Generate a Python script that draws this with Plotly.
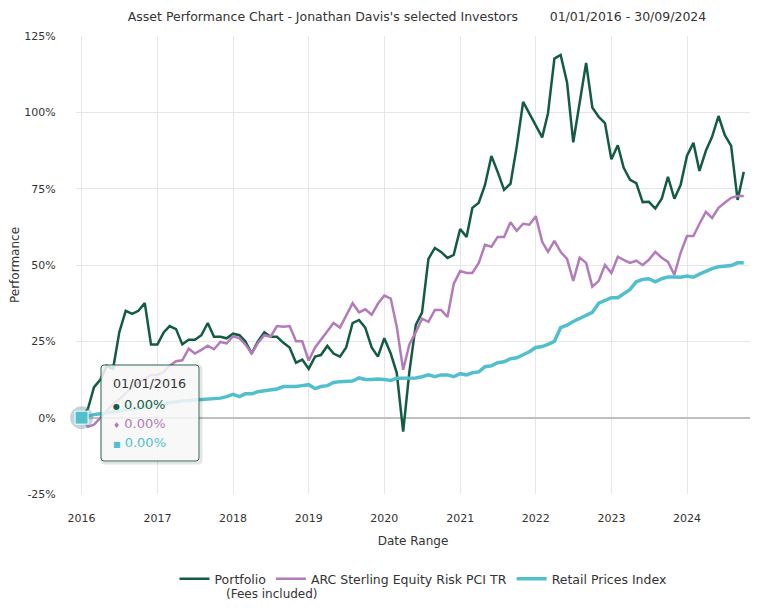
import plotly.graph_objects as go
import pandas as pd

# ---------------- data ----------------
dates = pd.date_range("2016-01-01", periods=106, freq="MS")

portfolio = [
    0, 3, 10, 12.5, 17, 16, 28, 35, 34, 35, 37.5, 24,
    24, 28, 30, 29, 24, 25.5, 25.5, 27, 31, 26.5, 26.5, 26,
    27.5, 27, 25, 21, 25, 28, 26.5, 26.5, 24.5, 23, 18, 19,
    16, 20, 20.5, 23.5, 21, 20, 23, 31, 32, 29.5, 23, 20,
    26, 21, 14.7, -4.6, 15, 30.4, 34.4, 52, 55.6, 54.3, 52.3, 53.3,
    61.8, 59.2, 68.7, 70.4, 76.2, 85.7, 80.5, 74.6, 76.6, 88.7, 103.4, 99.7,
    96, 91.8, 99.7, 117.6, 118.8, 109.8, 90.2, 103.6, 116.2, 101.6, 98.5, 96.5,
    84.6, 89.2, 81.9, 77.9, 76.8, 70.6, 70.7, 68.5, 71.7, 78.9, 71.7, 76.2,
    85.8, 90, 80.8, 87.4, 92, 98.8, 92.6, 89, 71.3, 80.5,
]

arc = [
    0, -3, -2.3, 0, 2, 4.5, 6, 8, 10, 11.5, 12.5, 14,
    14, 15, 17, 18.5, 18.8, 22.6, 21, 22.2, 23.6, 22.4, 24.8, 24.3,
    26.7, 26, 24, 21, 24.5, 27, 26.5, 30, 29.8, 30, 25, 25,
    18.7, 23, 25.5, 28, 31, 29.5, 33.7, 37.5, 34.5, 35.5, 33.7, 37.3,
    40, 39, 29.8, 15.7, 24, 28, 32.4, 31.4, 35.3, 35.3, 33, 43.8,
    48, 47.4, 47.4, 50.7, 56.6, 56, 59.2, 59.2, 64, 61.2, 63.5, 63.2,
    66, 57.6, 54.3, 57.9, 54.3, 52, 44.8, 52.4, 50.7, 42.9, 44.8, 50,
    47.4, 52.7, 51.7, 50.7, 51.4, 50, 51.7, 54.3, 52.4, 51, 46.8, 54,
    59.5, 59.5, 63.5, 67.4, 65.4, 68.7, 70.4, 72, 72.6, 72.6,
]

rpi = [
    0, 0.6, 1.0, 1.3, 1.6, 1.9, 2.2, 2.5, 2.8, 3.0, 3.3, 3.5,
    3.9, 4.4, 4.9, 5.3, 5.5, 5.6, 5.8, 5.9, 6.2, 6.2, 6.4, 6.9,
    7.6, 6.9, 7.8, 7.8, 8.5, 8.8, 9.2, 9.4, 10.2, 10.2, 10.2, 10.5,
    10.8, 9.5, 10.2, 10.5, 11.5, 11.8, 12, 12, 13, 12.5, 12.5, 12.7,
    12.5, 12.2, 12.9, 13, 13, 13, 13.4, 14, 13.4, 14, 14, 13.4,
    14.4, 14, 14.7, 15, 16.7, 17, 18, 18.3, 19.3, 19.6, 20.6, 21.6,
    23, 23.3, 24, 25, 29.5, 30.3, 31.5, 32.5, 33.7, 34.5, 37.5, 38.5,
    39.3, 39.3, 40.5, 42, 44.5, 45.3, 45.5, 44.5, 45.5, 46.1, 46.1, 46,
    46.4, 46, 47, 48, 48.8, 49.4, 49.6, 49.8, 50.7, 50.7,
]

series_names = ["Portfolio", "ARC Sterling Equity Risk PCI TR", "Retail Prices Index"]
series_colors = ["#135c41", "#b37bba", "#52bfcc"]

year_ticks = ["2016-01-01", "2017-01-01", "2018-01-01", "2019-01-01", "2020-01-01",
              "2021-01-01", "2022-01-01", "2023-01-01", "2024-01-01"]
year_labels = ["2016", "2017", "2018", "2019", "2020", "2021", "2022", "2023", "2024"]
y_ticks = [-25, 0, 25, 50, 75, 100, 125]
y_tick_labels = ["-25%", "0%", "25%", "50%", "75%", "100%", "125%"]

tooltip_date = "01/01/2016"
tooltip_values = ["0.00%", "0.00%", "0.00%"]
tooltip_symbols = ["\u25cf", "\u2666", "\u25a0"]

# ---------------- layout geometry ----------------
OFF = 8                      # browser body margin
W, H = 762 - 2 * OFF, 610 - 2 * OFF
L, R, T, B = 68, 4, 28, 108
PW, PH = W - L - R, H - T - B
FONT = "DejaVu Sans"
TXT = "#333333"


def px(xp):  # page pixel -> paper x
    return (xp - OFF - L) / PW


def py(yp):  # page pixel -> paper y
    return (H - B - (yp - OFF)) / PH


def rounded_rect(x0, y0, x1, y1, r):
    ax0, ax1 = px(x0), px(x1)
    ay0, ay1 = py(y0), py(y1)  # ay0 top (larger), ay1 bottom
    rx, ry = r / PW, r / PH
    return (f"M {ax0 + rx},{ay0} L {ax1 - rx},{ay0} Q {ax1},{ay0} {ax1},{ay0 - ry} "
            f"L {ax1},{ay1 + ry} Q {ax1},{ay1} {ax1 - rx},{ay1} "
            f"L {ax0 + rx},{ay1} Q {ax0},{ay1} {ax0},{ay1 + ry} "
            f"L {ax0},{ay0 - ry} Q {ax0},{ay0} {ax0 + rx},{ay0} Z")


fig = go.Figure()

data_sets = [portfolio, arc, rpi]
widths = [2.5, 2.5, 3.5]
# draw in Highcharts order (later series on top)
for i, (name, vals) in enumerate(zip(series_names, data_sets)):
    fig.add_trace(go.Scatter(
        x=dates, y=vals, mode="lines", name=name,
        line=dict(color=series_colors[i], width=widths[i]),
        hoverinfo="skip", legendrank=i + 1,
    ))

# hover marker (halo + square) on the first RPI point
fig.add_trace(go.Scatter(
    x=[dates[0]], y=[rpi[0]], mode="markers", showlegend=False, hoverinfo="skip",
    cliponaxis=False,
    marker=dict(symbol="circle", size=23, color="rgba(95,145,165,0.38)",
                line=dict(width=0)),
))
fig.add_trace(go.Scatter(
    x=[dates[0]], y=[rpi[0]], mode="markers", showlegend=False, hoverinfo="skip",
    cliponaxis=False,
    marker=dict(symbol="square", size=13, color=series_colors[2],
                line=dict(width=1, color="white")),
))

shapes = [
    dict(type="path", xref="paper", yref="paper", layer="above",
         path=rounded_rect(102, 366, 201, 463, 3),
         line=dict(color="rgba(0,0,0,0.10)", width=3), fillcolor="rgba(0,0,0,0)"),
    dict(type="path", xref="paper", yref="paper", layer="above",
         path=rounded_rect(101, 365, 199, 461, 3),
         line=dict(color="#2e6b58", width=1), fillcolor="rgba(247,247,247,0.86)"),
]

annotations = [
    dict(xref="paper", yref="paper", x=px(111), y=py(383), xanchor="left", yanchor="middle",
         text=tooltip_date, showarrow=False, font=dict(family=FONT, size=12.7, color=TXT)),
]
line_y = [404, 423, 442]
for i in range(3):
    annotations.append(dict(
        xref="paper", yref="paper", x=px(111), y=py(line_y[i]), xanchor="left", yanchor="middle",
        showarrow=False,
        text=(f"<span style='font-size:8px'>{tooltip_symbols[i]}</span> "
              f"{tooltip_values[i]}"),
        font=dict(family=FONT, size=13, color=series_colors[i]),
    ))
annotations.append(dict(
    xref="paper", yref="paper", x=px(272), y=py(594), xanchor="center", yanchor="middle",
    text="(Fees included)", showarrow=False, font=dict(family=FONT, size=12, color=TXT),
))

fig.update_layout(
    width=W, height=H,
    margin=dict(l=L, r=R, t=T, b=B, pad=0),
    paper_bgcolor="white", plot_bgcolor="white",
    font=dict(family=FONT, size=11, color=TXT),
    title=dict(
        text=("Asset Performance Chart - Jonathan Davis's selected Investors"
              + "\u00a0" * 8 + "01/01/2016 - 30/09/2024"),
        xref="paper", x=px(417), xanchor="center", y=1 - (17 - OFF) / H, yanchor="middle",
        font=dict(family=FONT, size=12.5, color=TXT),
    ),
    xaxis=dict(
        type="date", range=["2015-12-05", "2024-10-31"], automargin=False,
        tickvals=year_ticks, ticktext=year_labels,
        showgrid=True, gridcolor="#e6e6e6", gridwidth=1,
        zeroline=False, showline=False,
        ticks="outside", ticklen=14, tickcolor="rgba(0,0,0,0)",
        tickfont=dict(family=FONT, size=11, color=TXT),
        title=dict(text="Date Range", font=dict(family=FONT, size=12, color=TXT), standoff=12),
    ),
    yaxis=dict(
        range=[-25, 125], tickvals=y_ticks, ticktext=y_tick_labels, automargin=False,
        showgrid=True, gridcolor="#e6e6e6", gridwidth=1,
        zeroline=True, zerolinecolor="#c0c0c0", zerolinewidth=2,
        showline=False,
        ticks="outside", ticklen=17, tickcolor="rgba(0,0,0,0)",
        tickfont=dict(family=FONT, size=11, color=TXT),
        title=dict(text="Performance", font=dict(family=FONT, size=12, color=TXT), standoff=14),
    ),
    legend=dict(
        orientation="h", x=px(423), xanchor="center", y=py(564), yanchor="top",
        font=dict(family=FONT, size=12.5, color=TXT), bgcolor="rgba(0,0,0,0)",
        traceorder="normal",
    ),
    shapes=shapes,
    annotations=annotations,
    showlegend=True,
)

fig.write_html("out.html")
